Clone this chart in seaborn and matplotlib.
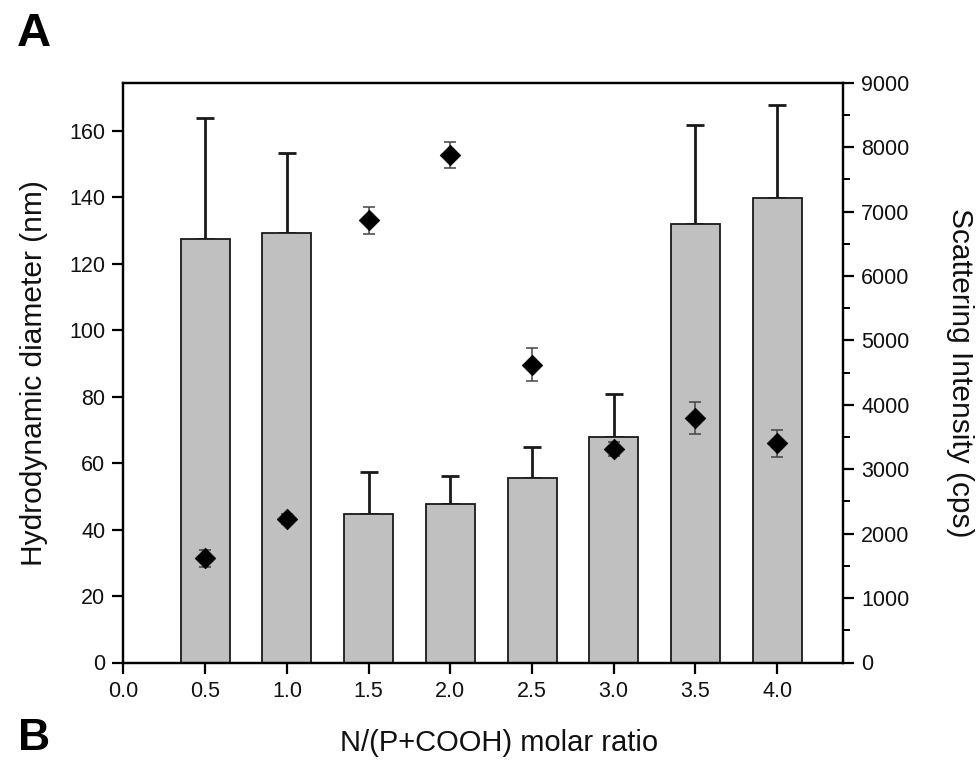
import matplotlib
matplotlib.use("Agg")
import matplotlib.pyplot as plt
import seaborn as sns
import numpy as np
import pandas as pd
from matplotlib.ticker import MultipleLocator, FormatStrFormatter

# ---- data ----
ratio = [0.5, 1.0, 1.5, 2.0, 2.5, 3.0, 3.5, 4.0]
diameter = [127.4, 129.4, 44.7, 47.7, 55.4, 67.9, 132.0, 139.9]
diameter_err = [36.4, 24.0, 12.6, 8.3, 9.6, 12.9, 29.9, 28.0]
intensity = [1617, 2225, 6865, 7876, 4625, 3315, 3795, 3400]
intensity_err = [130, 75, 210, 200, 250, 108, 248, 208]
x_ticks = [0.0, 0.5, 1.0, 1.5, 2.0, 2.5, 3.0, 3.5, 4.0]
left_ticks = [0, 20, 40, 60, 80, 100, 120, 140, 160]
right_ticks = [0, 1000, 2000, 3000, 4000, 5000, 6000, 7000, 8000, 9000]

df = pd.DataFrame({"ratio": ratio, "diameter": diameter,
                   "diameter_err": diameter_err, "intensity": intensity,
                   "intensity_err": intensity_err})

sns.set_style("ticks")
plt.rcParams['font.family'] = ['Liberation Sans', 'DejaVu Sans']
plt.rcParams['text.color'] = '#111111'
plt.rcParams['axes.labelcolor'] = '#111111'

fig = plt.figure(figsize=(9.79, 7.6), dpi=100)
ax = fig.add_axes([123.5 / 979, 1 - 662.5 / 760, (843.3 - 123.5) / 979, (662.5 - 82.7) / 760])

sns.barplot(data=df, x="ratio", y="diameter", native_scale=True, width=0.6,
            color="#c0c0c0", saturation=1, edgecolor="#1a1a1a", linewidth=1.3,
            errorbar=None, ax=ax, zorder=2)
ax.errorbar(df["ratio"], df["diameter"],
            yerr=[np.zeros(len(df)), df["diameter_err"]],
            fmt="none", ecolor="#1a1a1a", elinewidth=2.0, capsize=6.5, capthick=2.0, zorder=1)

ax.set_xlim(0, 4.405)
ax.set_ylim(0, 174.5)
ax.set_xticks(x_ticks)
ax.xaxis.set_major_formatter(FormatStrFormatter("%.1f"))
ax.set_yticks(left_ticks)

ax2 = ax.twinx()
sns.scatterplot(data=df, x="ratio", y="intensity", marker="D", s=110,
                color="black", edgecolor="black", linewidth=0.5, ax=ax2, zorder=3)
ax2.errorbar(df["ratio"], df["intensity"], yerr=df["intensity_err"],
             fmt="none", ecolor="#444444", elinewidth=1.1, capsize=4, capthick=1.1, zorder=2)
ax2.set_ylim(0, 9000)
ax2.set_yticks(right_ticks)
ax2.yaxis.set_minor_locator(MultipleLocator(500))
ax2.set_xlim(0, 4.405)

for a in (ax, ax2):
    for s in a.spines.values():
        s.set_linewidth(1.6)
        s.set_color("black")
        s.set_visible(True)

ax.tick_params(axis="both", which="major", direction="out", length=8, width=1.6,
               labelsize=15.5, colors="black", labelcolor="#111111", pad=5)
ax.tick_params(axis="x", top=False)
ax.tick_params(axis="y", right=False)
ax2.tick_params(axis="y", which="major", direction="out", length=8, width=1.6,
                labelsize=15.5, colors="black", labelcolor="#111111", pad=5,
                right=True, left=False)
ax2.tick_params(axis="y", which="minor", direction="out", length=5, width=1.4,
                colors="black", right=True, left=False)

ax.set_xlabel("N/(P+COOH) molar ratio", fontsize=21, va="top")
ax.xaxis.set_label_coords((499 - 123.5) / 719.8, (662.5 - 729) / 579.8)
ax.set_ylabel("Hydrodynamic diameter (nm)", fontsize=21.5, labelpad=15)
ax2.set_ylabel("Scattering Intensity (cps)", fontsize=21.5, rotation=270, labelpad=46)

fig.text(17 / 979, 1 - 12 / 760, "A", fontsize=34, fontweight="bold", va="top", ha="left",
         color="black")
fig.text(18 / 979, 1 - 718 / 760, "B", fontsize=32, fontweight="bold", va="top", ha="left",
         color="black")

fig.savefig("out.png", dpi=100)
